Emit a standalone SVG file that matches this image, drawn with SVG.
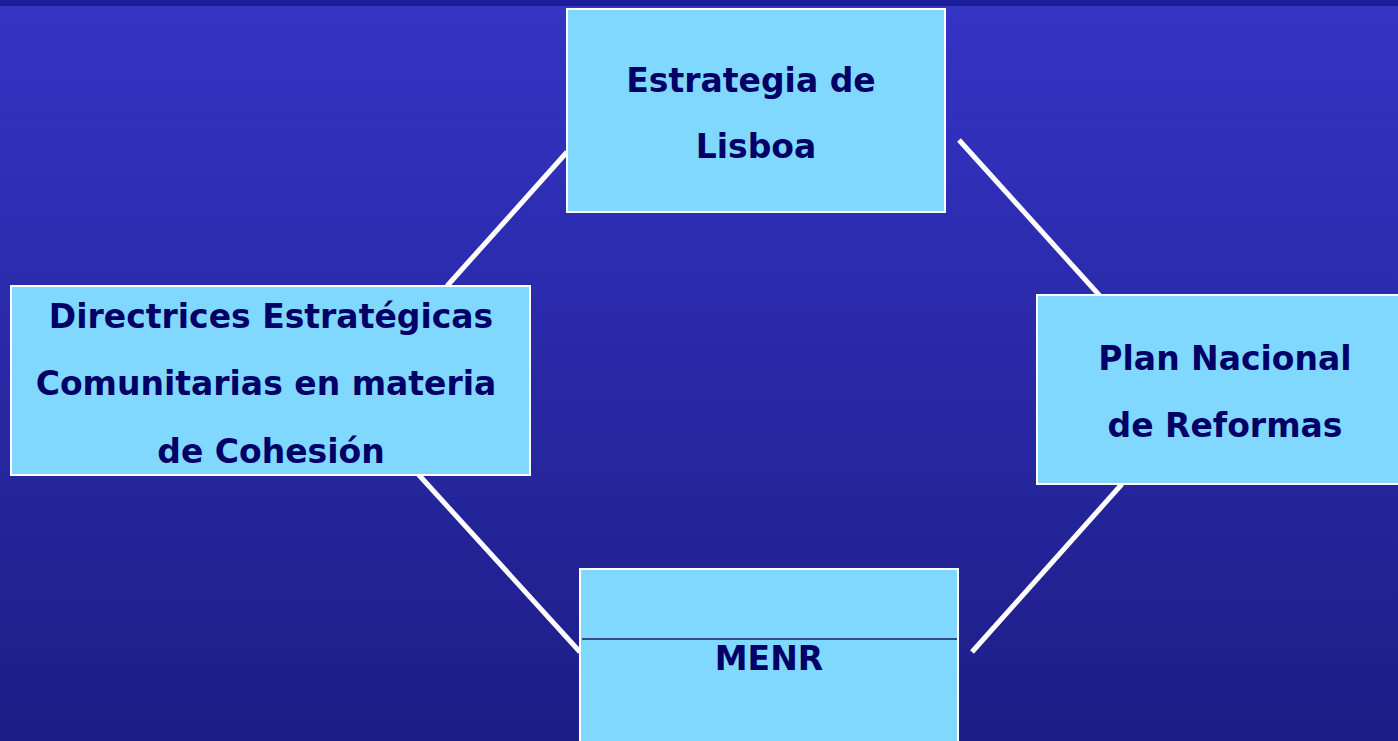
<svg xmlns="http://www.w3.org/2000/svg" width="1398" height="741" viewBox="0 0 1398 741">
<defs>
<linearGradient id="bg" x1="0" y1="0" x2="0" y2="1">
<stop offset="0" stop-color="#3434c6"/>
<stop offset="1" stop-color="#1d1d86"/>
</linearGradient>
<style>
.box{fill:#80d8ff;stroke:#ffffff;stroke-width:2}
.lbl{font-family:"DejaVu Sans",Verdana,sans-serif;font-weight:bold;font-size:33px;fill:#000066;text-anchor:middle}
.conn{stroke:#ffffff;stroke-width:5;fill:none}
</style>
</defs>
<rect width="1398" height="741" fill="url(#bg)"/>
<rect width="1398" height="6" fill="#1c1c9a"/>
<g id="connectors">
<line class="conn" x1="567" y1="152" x2="447" y2="286"/>
<line class="conn" x1="959" y1="140" x2="1100" y2="296"/>
<line class="conn" x1="418" y1="474" x2="580" y2="652"/>
<line class="conn" x1="1122" y1="484" x2="972" y2="652"/>
</g>
<g id="lisboa">
<rect class="box" x="567" y="9" width="378" height="203"/>
<text class="lbl" x="751" y="92">Estrategia de</text>
<text class="lbl" x="756" y="158">Lisboa</text>
</g>
<g id="directrices">
<rect class="box" x="11" y="286" width="519" height="189"/>
<text class="lbl" x="271" y="328">Directrices Estratégicas</text>
<text class="lbl" x="266" y="395">Comunitarias en materia</text>
<text class="lbl" x="271" y="463">de Cohesión</text>
</g>
<g id="plan">
<rect class="box" x="1037" y="295" width="370" height="189"/>
<text class="lbl" x="1225" y="370">Plan Nacional</text>
<text class="lbl" x="1225" y="437">de Reformas</text>
</g>
<g id="menr">
<rect class="box" x="580" y="569" width="378" height="180"/>
<line x1="582" y1="639" x2="957" y2="639" stroke="#1a1a6e" stroke-width="1.5"/>
<text class="lbl" x="769" y="670">MENR</text>
</g>
</svg>
